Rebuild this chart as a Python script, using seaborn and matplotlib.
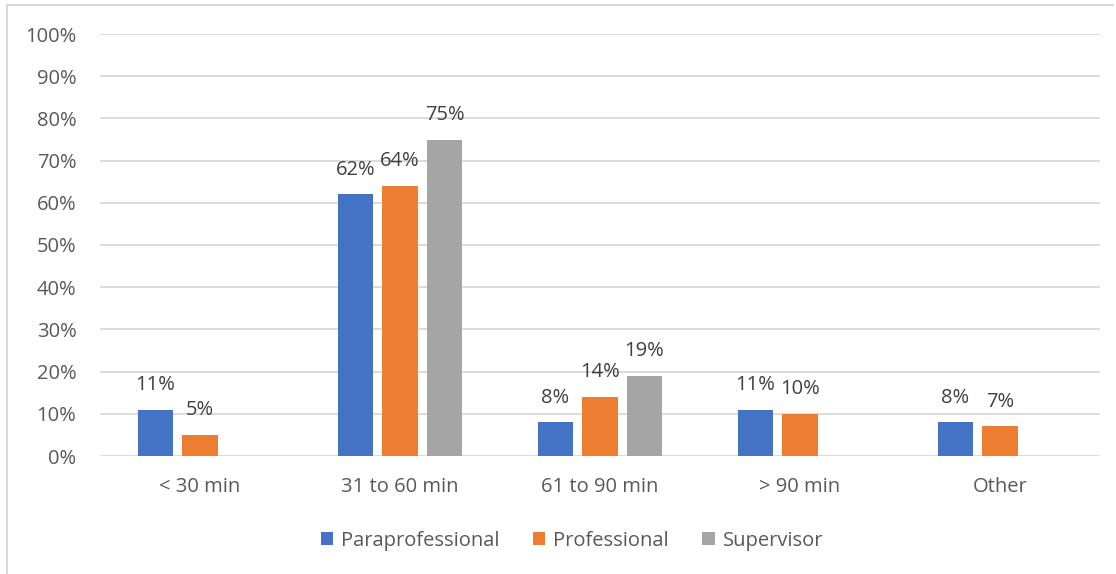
import matplotlib
matplotlib.use("Agg")
import matplotlib.pyplot as plt
from matplotlib.lines import Line2D
import numpy as np
import pandas as pd
import seaborn as sns

categories = ["< 30 min", "31 to 60 min", "61 to 90 min", "> 90 min", "Other"]
paraprofessional = [11, 62, 8, 11, 8]
professional = [5, 64, 14, 10, 7]
supervisor = [np.nan, 75, 19, np.nan, np.nan]
groups = ["Paraprofessional", "Professional", "Supervisor"]
colors = ["#4472C4", "#ED7D31", "#A5A5A5"]
y_ticks = list(range(0, 101, 10))

df = pd.DataFrame({
    "category": categories * 3,
    "group": [g for g in groups for _ in categories],
    "value": paraprofessional + professional + supervisor,
})

sns.set_theme(style="white")
plt.rcParams["font.family"] = ["Open Sans", "DejaVu Sans"]

FS = 14.5
W, H = 1116, 574
fig = plt.figure(figsize=(W / 100, H / 100), dpi=100)
ax = fig.add_axes([100 / W, 118 / H, 1000 / W, 422 / H])

sns.barplot(data=df, x="category", y="value", hue="group", order=categories,
            hue_order=groups, palette=colors, width=0.667, gap=0.21,
            saturation=1, ax=ax, legend=True, linewidth=0)

for cont in ax.containers:
    ax.bar_label(cont, fmt="{:.0f}%", padding=10.5, fontsize=FS, color="#404040")

ax.set_xlim(-0.5, len(categories) - 0.5)
ax.set_ylim(0, 100)
ax.set_yticks(y_ticks)
ax.set_yticklabels([f"{t}%" for t in y_ticks])
ax.set_xlabel("")
ax.set_ylabel("")
ax.yaxis.grid(True, color="#d9d9d9", linewidth=1.3)
ax.set_axisbelow(True)
for s in ax.spines.values():
    s.set_visible(False)
ax.tick_params(axis="y", length=0, pad=17, labelsize=FS, labelcolor="#595959")
ax.tick_params(axis="x", length=0, pad=15, labelsize=FS, labelcolor="#595959")

handles, labels = ax.get_legend_handles_labels()
ax.get_legend().remove()
fig.legend(handles, labels, loc="center", bbox_to_anchor=(572 / W, 1 - 541 / H),
           ncol=3, frameon=False, fontsize=FS, handlelength=0.62, handleheight=0.62,
           handletextpad=0.4, columnspacing=1.65, labelcolor="#595959")

# chart frame
fig.add_artist(Line2D([7 / W, 7 / W], [0, 1 - 4.5 / H], transform=fig.transFigure,
                      color="#d9d9d9", linewidth=1.5))
fig.add_artist(Line2D([7 / W, 1113 / W], [1 - 4.5 / H, 1 - 4.5 / H],
                      transform=fig.transFigure, color="#d9d9d9", linewidth=1.5))

fig.savefig("out.png", dpi=100)
